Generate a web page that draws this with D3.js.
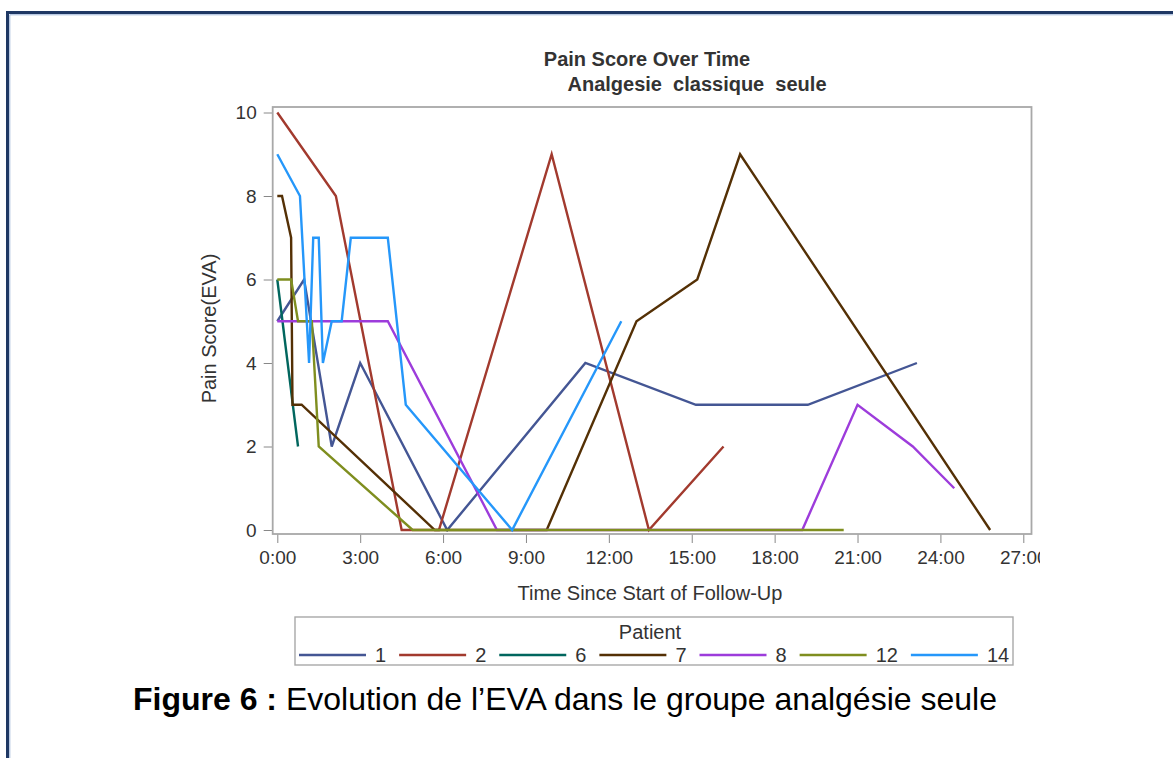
<!DOCTYPE html>
<html>
<head>
<meta charset="utf-8">
<script src="https://cdn.jsdelivr.net/npm/d3@7"></script>
<style>
	body { margin: 0; background: #fff; }
	svg { display: block; }
	.sas { font-family: 'Liberation Sans Narrow', 'Liberation Sans', Arial, sans-serif; fill: #333; }
</style>
</head>
<body>
<svg id="fig" width="1173" height="758"></svg>
<script>
// patients and their colours (SAS HTMLBlue group colours)
var patients = ['1', '2', '6', '7', '8', '12', '14']
var colors = ['#445694', '#A23A2E', '#01665E', '#543005', '#9D3CDB', '#7F8E1F', '#2597FA']

// [hours since start, pain score]
var p1 = [[0, 5], [0.97, 6], [1.97, 2], [3.0, 4], [6.15, 0], [11.15, 4], [15.15, 3], [19.2, 3], [23.15, 4]]
var p2 = [[0, 10], [2.12, 8], [4.5, 0], [5.85, 0], [9.93, 9], [13.45, 0], [16.15, 2]]
var p6 = [[0, 6], [0.75, 2]]
var p7 = [[0, 8], [0.17, 8], [0.5, 7], [0.55, 3], [0.88, 3], [5.7, 0], [9.75, 0], [13.0, 5], [15.2, 6], [16.75, 9], [25.8, 0]]
var p8 = [[0, 5], [4.0, 5], [7.95, 0], [19.0, 0], [21.0, 3], [23.0, 2], [24.5, 1]]
var p12 = [[0, 6], [0.5, 6], [0.75, 5], [1.25, 5], [1.5, 2], [4.9, 0], [20.5, 0]]
var p14 = [[0, 9], [0.82, 8], [1.15, 4], [1.3, 7], [1.5, 7], [1.65, 4], [1.97, 5], [2.33, 5], [2.66, 7], [4.0, 7], [4.65, 3], [8.5, 0], [12.45, 5]]
var series = [p1, p2, p6, p7, p8, p12, p14]

var xTicks = [0, 3, 6, 9, 12, 15, 18, 21, 24, 27]
var yTicks = [0, 2, 4, 6, 8, 10]

var svg = d3.select('#fig')

// outer frame of the page figure
svg.append('path')
	.attr('d', 'M7.5,758 V12.5 H1173')
	.attr('fill', 'none')
	.attr('stroke', '#1f3864')
	.attr('stroke-width', 3)
svg.append('path')
	.attr('d', 'M9.8,758 V14.8 H1173')
	.attr('fill', 'none')
	.attr('stroke', '#9db4d8')
	.attr('stroke-width', 1)

// the SAS picture was cut on its right side
svg.append('clipPath').attr('id', 'imgclip')
	.append('rect').attr('x', 0).attr('y', 0).attr('width', 1040).attr('height', 758)

var chart = svg.append('g').attr('clip-path', 'url(#imgclip)')

var frame = { left: 272.7, right: 1031.5, top: 107, bottom: 534 }

var xScale = d3.scaleLinear()
	.domain([0, 27])
	.range([277.3, 1023.3])

var yScale = d3.scaleLinear()
	.domain([0, 10])
	.range([530, 112.5])

// y axis
var yAxis = chart.append('g')
	.attr('transform', 'translate(' + frame.left + ',0)')
	.call(d3.axisLeft(yScale).tickValues(yTicks).tickSize(9).tickPadding(7))
yAxis.select('.domain').remove()
yAxis.selectAll('line').attr('stroke', '#888')
yAxis.selectAll('text')
	.attr('class', 'sas')
	.style('font-size', '19px')
	.attr('fill', '#333')

// x axis
var xAxis = chart.append('g')
	.attr('transform', 'translate(0,' + frame.bottom + ')')
	.call(d3.axisBottom(xScale).tickValues(xTicks).tickSize(9).tickPadding(8)
		.tickFormat(function(d) { return d + ':00' }))
xAxis.select('.domain').remove()
xAxis.selectAll('line').attr('stroke', '#888')
xAxis.selectAll('text')
	.attr('class', 'sas')
	.style('font-size', '19px')
	.attr('fill', '#333')

// plot frame
chart.append('rect')
	.attr('x', frame.left)
	.attr('y', frame.top)
	.attr('width', frame.right - frame.left)
	.attr('height', frame.bottom - frame.top)
	.attr('fill', 'none')
	.attr('stroke', '#a8a8a8')
	.attr('stroke-width', 1.8)

var line = d3.line()
	.x(function(d) { return xScale(d[0]) })
	.y(function(d) { return yScale(d[1]) })

chart.append('g').selectAll('path')
	.data(series)
	.enter()
	.append('path')
	.attr('d', line)
	.attr('fill', 'none')
	.attr('stroke', function(d, i) { return colors[i] })
	.attr('stroke-width', 2.4)
	.attr('stroke-linejoin', 'miter')

// titles
chart.append('text')
	.attr('class', 'sas')
	.attr('x', 647).attr('y', 66)
	.attr('text-anchor', 'middle')
	.style('font-size', '20px').style('font-weight', 'bold')
	.attr('fill', '#111')
	.text('Pain Score Over Time')
chart.append('text')
	.attr('class', 'sas')
	.attr('x', 697).attr('y', 91)
	.attr('text-anchor', 'middle')
	.style('font-size', '20px').style('font-weight', 'bold')
	.style('white-space', 'pre')
	.attr('fill', '#111')
	.text('Analgesie  classique  seule')

// axis labels
chart.append('text')
	.attr('class', 'sas')
	.attr('transform', 'translate(216,' + ((frame.top + frame.bottom) / 2 + 8) + ') rotate(-90)')
	.attr('text-anchor', 'middle')
	.style('font-size', '20px')
	.text('Pain Score(EVA)')
chart.append('text')
	.attr('class', 'sas')
	.attr('x', 650).attr('y', 600)
	.attr('text-anchor', 'middle')
	.style('font-size', '20px')
	.text('Time Since Start of Follow-Up')

// legend
var legend = chart.append('g')
legend.append('rect')
	.attr('x', 295).attr('y', 617)
	.attr('width', 718).attr('height', 48)
	.attr('fill', 'none')
	.attr('stroke', '#a8a8a8')
	.attr('stroke-width', 1.4)
legend.append('text')
	.attr('class', 'sas')
	.attr('x', 650).attr('y', 639)
	.attr('text-anchor', 'middle')
	.style('font-size', '20px')
	.text('Patient')

var itemX = 299
patients.forEach(function(p, i) {
	legend.append('line')
		.attr('x1', itemX).attr('x2', itemX + 67)
		.attr('y1', 655).attr('y2', 655)
		.attr('stroke', colors[i])
		.attr('stroke-width', 2.4)
	var t = legend.append('text')
		.attr('class', 'sas')
		.attr('x', itemX + 76).attr('y', 662)
		.style('font-size', '20px')
		.text(p)
	itemX = itemX + 76 + t.node().getComputedTextLength() + 13
})

// caption under the figure
var caption = svg.append('text')
	.attr('x', 133).attr('y', 710)
	.style('font-family', "'Liberation Sans', Arial, sans-serif")
	.style('font-size', '32px')
	.attr('fill', '#000')
caption.append('tspan').style('font-weight', 'bold').text('Figure 6 :')
caption.append('tspan').text(' Evolution de l\u2019EVA dans le groupe analgésie seule')
</script>
</body>
</html>
